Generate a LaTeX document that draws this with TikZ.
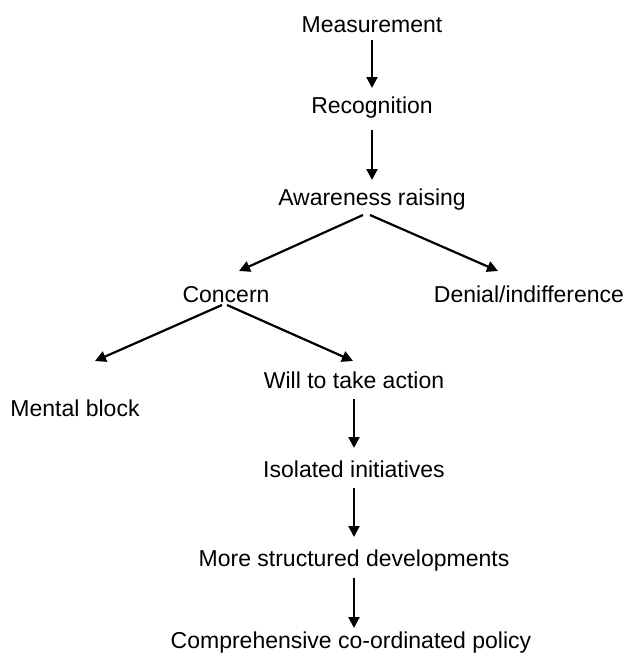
\documentclass[tikz,border=0pt]{standalone}
\usepackage{fontspec}
\setmainfont{Liberation Sans}
\usetikzlibrary{arrows.meta}
\begin{document}
\begin{tikzpicture}[x=1pt,y=-1pt,
  stage/.style={anchor=base,inner sep=0pt,font=\fontsize{23}{27}\selectfont},
  flow/.style={-{Triangle[length=11pt,width=11pt]},line width=2.2pt}]
\useasboundingbox (0,0) rectangle (626,659);
% stages
\node[stage] (mea) at (372,32) {Measurement};
\node[stage] (rec) at (372,113) {Recognition};
\node[stage] (awa) at (372,205) {Awareness raising};
\node[stage] (con) at (226,302) {Concern};
\node[stage] (den) at (529,302) {Denial/indifference};
\node[stage] (men) at (75,416) {Mental block};
\node[stage] (wil) at (354,388) {Will to take action};
\node[stage] (iso) at (354,477) {Isolated initiatives};
\node[stage] (mor) at (354,566) {More structured developments};
\node[stage] (com) at (351,648) {Comprehensive co-ordinated policy};
% arrows
\draw[flow] ([yshift=-8pt]mea.base) -- ([yshift=25pt]rec.base);
\draw[flow] ([yshift=-17pt]rec.base) -- ([yshift=25pt]awa.base);
\draw[flow] ([xshift=-9pt,yshift=-10pt]awa.base) -- ([xshift=13pt,yshift=31pt]con.base);
\draw[flow] ([xshift=-2pt,yshift=-10pt]awa.base) -- ([xshift=-31pt,yshift=31pt]den.base);
\draw[flow] ([xshift=-4pt,yshift=-3pt]con.base) -- ([xshift=20pt,yshift=55pt]men.base);
\draw[flow] ([xshift=1pt,yshift=-3pt]con.base) -- ([xshift=-1pt,yshift=27pt]wil.base);
\draw[flow] ([yshift=-11pt]wil.base) -- ([yshift=29pt]iso.base);
\draw[flow] ([yshift=-11pt]iso.base) -- ([yshift=29pt]mor.base);
\draw[flow] ([yshift=-12pt]mor.base) -- ([xshift=3pt,yshift=20pt]com.base);
\end{tikzpicture}
\end{document}
